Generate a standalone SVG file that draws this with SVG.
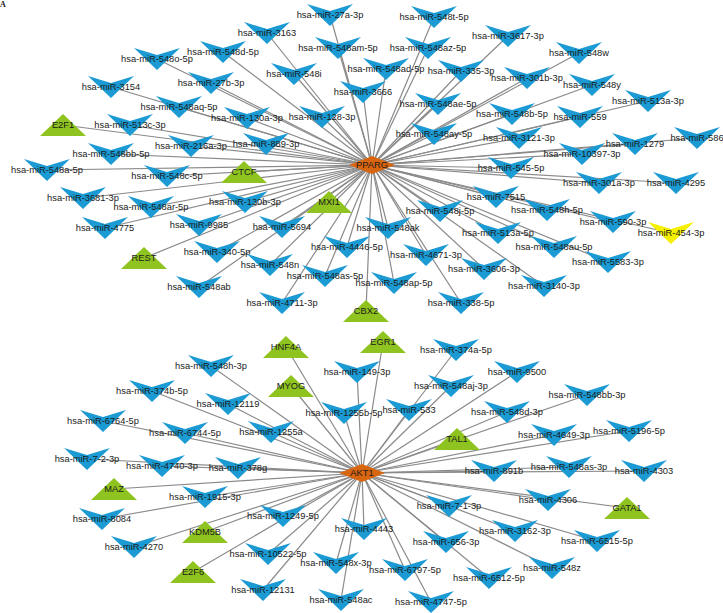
<svg xmlns="http://www.w3.org/2000/svg" xmlns:xlink="http://www.w3.org/1999/xlink" width="723" height="613" viewBox="0 0 723 613">
<style>
.e{stroke:#8a8a8a;stroke-width:1.2;fill:none}
.m{fill:#1b9ad3}
.y{fill:#f5f000}
.t{fill:#8fc31f}
.h{fill:#d8650f}
text{font-family:"Liberation Sans",Arial,sans-serif;font-size:9.3px;fill:#1a1a1a;text-anchor:middle}
</style>
<defs>
<path id="mir" d="M-23,-11 L0,-4 L23,-11 L0,11 Z"/>
<path id="tf" d="M0,-11 L23,11 L-23,11 Z"/>
<path id="hub" d="M-23,0 L0,-9 L23,0 L0,9 Z"/>
</defs>
<rect width="723" height="613" fill="#fff"/>
<text x="0" y="7" style="font-family:'Liberation Serif',serif;font-weight:bold;font-size:8px;text-anchor:start">A</text>
<g id="edges">
<line class="e" x1="372" y1="165" x2="330" y2="15"/>
<line class="e" x1="372" y1="165" x2="434" y2="17"/>
<line class="e" x1="372" y1="165" x2="267" y2="33"/>
<line class="e" x1="372" y1="165" x2="223" y2="52"/>
<line class="e" x1="372" y1="165" x2="338" y2="48"/>
<line class="e" x1="372" y1="165" x2="428" y2="48"/>
<line class="e" x1="372" y1="165" x2="508" y2="36"/>
<line class="e" x1="372" y1="165" x2="157" y2="59"/>
<line class="e" x1="372" y1="165" x2="294" y2="74"/>
<line class="e" x1="372" y1="165" x2="386" y2="69"/>
<line class="e" x1="372" y1="165" x2="579" y2="53"/>
<line class="e" x1="372" y1="165" x2="111" y2="87"/>
<line class="e" x1="372" y1="165" x2="211" y2="83"/>
<line class="e" x1="372" y1="165" x2="363" y2="92"/>
<line class="e" x1="372" y1="165" x2="461" y2="71"/>
<line class="e" x1="372" y1="165" x2="527" y2="78"/>
<line class="e" x1="372" y1="165" x2="592" y2="85"/>
<line class="e" x1="372" y1="165" x2="179" y2="107"/>
<line class="e" x1="372" y1="165" x2="247" y2="118"/>
<line class="e" x1="372" y1="165" x2="438" y2="104"/>
<line class="e" x1="372" y1="165" x2="512" y2="114"/>
<line class="e" x1="372" y1="165" x2="580" y2="117"/>
<line class="e" x1="372" y1="165" x2="648" y2="101"/>
<line class="e" x1="372" y1="165" x2="130" y2="125"/>
<line class="e" x1="372" y1="165" x2="322" y2="117"/>
<line class="e" x1="372" y1="165" x2="434" y2="134"/>
<line class="e" x1="372" y1="165" x2="519" y2="138"/>
<line class="e" x1="372" y1="165" x2="635" y2="144"/>
<line class="e" x1="372" y1="165" x2="697" y2="138"/>
<line class="e" x1="372" y1="165" x2="191" y2="146"/>
<line class="e" x1="372" y1="165" x2="266" y2="144"/>
<line class="e" x1="372" y1="165" x2="582" y2="154"/>
<line class="e" x1="372" y1="165" x2="111" y2="154"/>
<line class="e" x1="372" y1="165" x2="47" y2="170"/>
<line class="e" x1="372" y1="165" x2="167" y2="176"/>
<line class="e" x1="372" y1="165" x2="511" y2="168"/>
<line class="e" x1="372" y1="165" x2="599" y2="183"/>
<line class="e" x1="372" y1="165" x2="676" y2="183"/>
<line class="e" x1="372" y1="165" x2="83" y2="198"/>
<line class="e" x1="372" y1="165" x2="245" y2="202"/>
<line class="e" x1="372" y1="165" x2="496" y2="197"/>
<line class="e" x1="372" y1="165" x2="151" y2="207"/>
<line class="e" x1="372" y1="165" x2="547" y2="210"/>
<line class="e" x1="372" y1="165" x2="440" y2="211"/>
<line class="e" x1="372" y1="165" x2="105" y2="228"/>
<line class="e" x1="372" y1="165" x2="199" y2="225"/>
<line class="e" x1="372" y1="165" x2="613" y2="222"/>
<line class="e" x1="372" y1="165" x2="671" y2="233"/>
<line class="e" x1="372" y1="165" x2="282" y2="227"/>
<line class="e" x1="372" y1="165" x2="388" y2="228"/>
<line class="e" x1="372" y1="165" x2="498" y2="233"/>
<line class="e" x1="372" y1="165" x2="217" y2="252"/>
<line class="e" x1="372" y1="165" x2="347" y2="247"/>
<line class="e" x1="372" y1="165" x2="426" y2="255"/>
<line class="e" x1="372" y1="165" x2="554" y2="247"/>
<line class="e" x1="372" y1="165" x2="270" y2="265"/>
<line class="e" x1="372" y1="165" x2="608" y2="262"/>
<line class="e" x1="372" y1="165" x2="484" y2="269"/>
<line class="e" x1="372" y1="165" x2="325" y2="276"/>
<line class="e" x1="372" y1="165" x2="394" y2="283"/>
<line class="e" x1="372" y1="165" x2="544" y2="286"/>
<line class="e" x1="372" y1="165" x2="199" y2="287"/>
<line class="e" x1="372" y1="165" x2="282" y2="303"/>
<line class="e" x1="372" y1="165" x2="461" y2="303"/>
<line class="e" x1="372" y1="165" x2="63" y2="125"/>
<line class="e" x1="372" y1="165" x2="244" y2="172"/>
<line class="e" x1="372" y1="165" x2="329" y2="202"/>
<line class="e" x1="372" y1="165" x2="144" y2="258"/>
<line class="e" x1="372" y1="165" x2="366" y2="311"/>
<line class="e" x1="362" y1="473" x2="211" y2="366"/>
<line class="e" x1="362" y1="473" x2="152" y2="391"/>
<line class="e" x1="362" y1="473" x2="228" y2="404"/>
<line class="e" x1="362" y1="473" x2="103" y2="421"/>
<line class="e" x1="362" y1="473" x2="185" y2="433"/>
<line class="e" x1="362" y1="473" x2="271" y2="432"/>
<line class="e" x1="362" y1="473" x2="87" y2="459"/>
<line class="e" x1="362" y1="473" x2="162" y2="466"/>
<line class="e" x1="362" y1="473" x2="238" y2="468"/>
<line class="e" x1="362" y1="473" x2="205" y2="497"/>
<line class="e" x1="362" y1="473" x2="102" y2="519"/>
<line class="e" x1="362" y1="473" x2="134" y2="547"/>
<line class="e" x1="362" y1="473" x2="283" y2="516"/>
<line class="e" x1="362" y1="473" x2="268" y2="554"/>
<line class="e" x1="362" y1="473" x2="263" y2="590"/>
<line class="e" x1="362" y1="473" x2="357" y2="372"/>
<line class="e" x1="362" y1="473" x2="344" y2="413"/>
<line class="e" x1="362" y1="473" x2="409" y2="410"/>
<line class="e" x1="362" y1="473" x2="456" y2="350"/>
<line class="e" x1="362" y1="473" x2="451" y2="386"/>
<line class="e" x1="362" y1="473" x2="517" y2="372"/>
<line class="e" x1="362" y1="473" x2="587" y2="395"/>
<line class="e" x1="362" y1="473" x2="507" y2="412"/>
<line class="e" x1="362" y1="473" x2="554" y2="435"/>
<line class="e" x1="362" y1="473" x2="629" y2="431"/>
<line class="e" x1="362" y1="473" x2="494" y2="471"/>
<line class="e" x1="362" y1="473" x2="569" y2="467"/>
<line class="e" x1="362" y1="473" x2="644" y2="471"/>
<line class="e" x1="362" y1="473" x2="548" y2="500"/>
<line class="e" x1="362" y1="473" x2="449" y2="506"/>
<line class="e" x1="362" y1="473" x2="515" y2="531"/>
<line class="e" x1="362" y1="473" x2="597" y2="541"/>
<line class="e" x1="362" y1="473" x2="552" y2="568"/>
<line class="e" x1="362" y1="473" x2="446" y2="542"/>
<line class="e" x1="362" y1="473" x2="489" y2="578"/>
<line class="e" x1="362" y1="473" x2="364" y2="529"/>
<line class="e" x1="362" y1="473" x2="336" y2="563"/>
<line class="e" x1="362" y1="473" x2="405" y2="570"/>
<line class="e" x1="362" y1="473" x2="341" y2="600"/>
<line class="e" x1="362" y1="473" x2="431" y2="602"/>
<line class="e" x1="362" y1="473" x2="286" y2="347"/>
<line class="e" x1="362" y1="473" x2="383" y2="342"/>
<line class="e" x1="362" y1="473" x2="291" y2="386"/>
<line class="e" x1="362" y1="473" x2="457" y2="439"/>
<line class="e" x1="362" y1="473" x2="114" y2="489"/>
<line class="e" x1="362" y1="473" x2="205" y2="532"/>
<line class="e" x1="362" y1="473" x2="193" y2="572"/>
<line class="e" x1="362" y1="473" x2="627" y2="508"/>
</g>
<g id="n-27a-3p"><use href="#mir" class="m" x="330" y="15"/><text x="330" y="18">hsa-miR-27a-3p</text></g>
<g id="n-548t-5p"><use href="#mir" class="m" x="434" y="17"/><text x="434" y="20">hsa-miR-548t-5p</text></g>
<g id="n-3163"><use href="#mir" class="m" x="267" y="33"/><text x="267" y="36">hsa-miR-3163</text></g>
<g id="n-548d-5p"><use href="#mir" class="m" x="223" y="52"/><text x="223" y="55">hsa-miR-548d-5p</text></g>
<g id="n-548am-5p"><use href="#mir" class="m" x="338" y="48"/><text x="338" y="51">hsa-miR-548am-5p</text></g>
<g id="n-548az-5p"><use href="#mir" class="m" x="428" y="48"/><text x="428" y="51">hsa-miR-548az-5p</text></g>
<g id="n-3617-3p"><use href="#mir" class="m" x="508" y="36"/><text x="508" y="39">hsa-miR-3617-3p</text></g>
<g id="n-548o-5p"><use href="#mir" class="m" x="157" y="59"/><text x="157" y="62">hsa-miR-548o-5p</text></g>
<g id="n-548i"><use href="#mir" class="m" x="294" y="74"/><text x="294" y="77">hsa-miR-548i</text></g>
<g id="n-548ad-5p"><use href="#mir" class="m" x="386" y="69"/><text x="386" y="72">hsa-miR-548ad-5p</text></g>
<g id="n-548w"><use href="#mir" class="m" x="579" y="53"/><text x="579" y="56">hsa-miR-548w</text></g>
<g id="n-3154"><use href="#mir" class="m" x="111" y="87"/><text x="111" y="90">hsa-miR-3154</text></g>
<g id="n-27b-3p"><use href="#mir" class="m" x="211" y="83"/><text x="211" y="86">hsa-miR-27b-3p</text></g>
<g id="n-3666"><use href="#mir" class="m" x="363" y="92"/><text x="363" y="95">hsa-miR-3666</text></g>
<g id="n-335-3p"><use href="#mir" class="m" x="461" y="71"/><text x="461" y="74">hsa-miR-335-3p</text></g>
<g id="n-301b-3p"><use href="#mir" class="m" x="527" y="78"/><text x="527" y="81">hsa-miR-301b-3p</text></g>
<g id="n-548y"><use href="#mir" class="m" x="592" y="85"/><text x="592" y="88">hsa-miR-548y</text></g>
<g id="n-548aq-5p"><use href="#mir" class="m" x="179" y="107"/><text x="179" y="110">hsa-miR-548aq-5p</text></g>
<g id="n-130a-3p"><use href="#mir" class="m" x="247" y="118"/><text x="247" y="121">hsa-miR-130a-3p</text></g>
<g id="n-548ae-5p"><use href="#mir" class="m" x="438" y="104"/><text x="438" y="107">hsa-miR-548ae-5p</text></g>
<g id="n-548b-5p"><use href="#mir" class="m" x="512" y="114"/><text x="512" y="117">hsa-miR-548b-5p</text></g>
<g id="n-559"><use href="#mir" class="m" x="580" y="117"/><text x="580" y="120">hsa-miR-559</text></g>
<g id="n-513a-3p"><use href="#mir" class="m" x="648" y="101"/><text x="648" y="104">hsa-miR-513a-3p</text></g>
<g id="n-513c-3p"><use href="#mir" class="m" x="130" y="125"/><text x="130" y="128">hsa-miR-513c-3p</text></g>
<g id="n-128-3p"><use href="#mir" class="m" x="322" y="117"/><text x="322" y="120">hsa-miR-128-3p</text></g>
<g id="n-548ay-5p"><use href="#mir" class="m" x="434" y="134"/><text x="434" y="137">hsa-miR-548ay-5p</text></g>
<g id="n-3121-3p"><use href="#mir" class="m" x="519" y="138"/><text x="519" y="141">hsa-miR-3121-3p</text></g>
<g id="n-1279"><use href="#mir" class="m" x="635" y="144"/><text x="635" y="147">hsa-miR-1279</text></g>
<g id="n-586"><use href="#mir" class="m" x="697" y="138"/><text x="697" y="141">hsa-miR-586</text></g>
<g id="n-216a-3p"><use href="#mir" class="m" x="191" y="146"/><text x="191" y="149">hsa-miR-216a-3p</text></g>
<g id="n-889-3p"><use href="#mir" class="m" x="266" y="144"/><text x="266" y="147">hsa-miR-889-3p</text></g>
<g id="n-10397-3p"><use href="#mir" class="m" x="582" y="154"/><text x="582" y="157">hsa-miR-10397-3p</text></g>
<g id="n-548bb-5p"><use href="#mir" class="m" x="111" y="154"/><text x="111" y="157">hsa-miR-548bb-5p</text></g>
<g id="n-548a-5p"><use href="#mir" class="m" x="47" y="170"/><text x="47" y="173">hsa-miR-548a-5p</text></g>
<g id="n-548c-5p"><use href="#mir" class="m" x="167" y="176"/><text x="167" y="179">hsa-miR-548c-5p</text></g>
<g id="n-545-5p"><use href="#mir" class="m" x="511" y="168"/><text x="511" y="171">hsa-miR-545-5p</text></g>
<g id="n-301a-3p"><use href="#mir" class="m" x="599" y="183"/><text x="599" y="186">hsa-miR-301a-3p</text></g>
<g id="n-4295"><use href="#mir" class="m" x="676" y="183"/><text x="676" y="186">hsa-miR-4295</text></g>
<g id="n-3681-3p"><use href="#mir" class="m" x="83" y="198"/><text x="83" y="201">hsa-miR-3681-3p</text></g>
<g id="n-130b-3p"><use href="#mir" class="m" x="245" y="202"/><text x="245" y="205">hsa-miR-130b-3p</text></g>
<g id="n-7515"><use href="#mir" class="m" x="496" y="197"/><text x="496" y="200">hsa-miR-7515</text></g>
<g id="n-548ar-5p"><use href="#mir" class="m" x="151" y="207"/><text x="151" y="210">hsa-miR-548ar-5p</text></g>
<g id="n-548h-5p"><use href="#mir" class="m" x="547" y="210"/><text x="547" y="213">hsa-miR-548h-5p</text></g>
<g id="n-548j-5p"><use href="#mir" class="m" x="440" y="211"/><text x="440" y="214">hsa-miR-548j-5p</text></g>
<g id="n-4775"><use href="#mir" class="m" x="105" y="228"/><text x="105" y="231">hsa-miR-4775</text></g>
<g id="n-9985"><use href="#mir" class="m" x="199" y="225"/><text x="199" y="228">hsa-miR-9985</text></g>
<g id="n-590-3p"><use href="#mir" class="m" x="613" y="222"/><text x="613" y="225">hsa-miR-590-3p</text></g>
<g id="n-454-3p"><use href="#mir" class="y" x="671" y="233"/><text x="671" y="236">hsa-miR-454-3p</text></g>
<g id="n-5694"><use href="#mir" class="m" x="282" y="227"/><text x="282" y="230">hsa-miR-5694</text></g>
<g id="n-548ak"><use href="#mir" class="m" x="388" y="228"/><text x="388" y="231">hsa-miR-548ak</text></g>
<g id="n-513a-5p"><use href="#mir" class="m" x="498" y="233"/><text x="498" y="236">hsa-miR-513a-5p</text></g>
<g id="n-340-5p"><use href="#mir" class="m" x="217" y="252"/><text x="217" y="255">hsa-miR-340-5p</text></g>
<g id="n-4446-5p"><use href="#mir" class="m" x="347" y="247"/><text x="347" y="250">hsa-miR-4446-5p</text></g>
<g id="n-4671-3p"><use href="#mir" class="m" x="426" y="255"/><text x="426" y="258">hsa-miR-4671-3p</text></g>
<g id="n-548au-5p"><use href="#mir" class="m" x="554" y="247"/><text x="554" y="250">hsa-miR-548au-5p</text></g>
<g id="n-548n"><use href="#mir" class="m" x="270" y="265"/><text x="270" y="268">hsa-miR-548n</text></g>
<g id="n-5583-3p"><use href="#mir" class="m" x="608" y="262"/><text x="608" y="265">hsa-miR-5583-3p</text></g>
<g id="n-3606-3p"><use href="#mir" class="m" x="484" y="269"/><text x="484" y="272">hsa-miR-3606-3p</text></g>
<g id="n-548as-5p"><use href="#mir" class="m" x="325" y="276"/><text x="325" y="279">hsa-miR-548as-5p</text></g>
<g id="n-548ap-5p"><use href="#mir" class="m" x="394" y="283"/><text x="394" y="286">hsa-miR-548ap-5p</text></g>
<g id="n-3140-3p"><use href="#mir" class="m" x="544" y="286"/><text x="544" y="289">hsa-miR-3140-3p</text></g>
<g id="n-548ab"><use href="#mir" class="m" x="199" y="287"/><text x="199" y="290">hsa-miR-548ab</text></g>
<g id="n-4711-3p"><use href="#mir" class="m" x="282" y="303"/><text x="282" y="306">hsa-miR-4711-3p</text></g>
<g id="n-338-5p"><use href="#mir" class="m" x="461" y="303"/><text x="461" y="306">hsa-miR-338-5p</text></g>
<g id="n-E2F1"><use href="#tf" class="t" x="63" y="125"/><text x="63" y="128">E2F1</text></g>
<g id="n-CTCF"><use href="#tf" class="t" x="244" y="172"/><text x="244" y="175">CTCF</text></g>
<g id="n-MXI1"><use href="#tf" class="t" x="329" y="202"/><text x="329" y="205">MXI1</text></g>
<g id="n-REST"><use href="#tf" class="t" x="144" y="258"/><text x="144" y="261">REST</text></g>
<g id="n-CBX2"><use href="#tf" class="t" x="366" y="311"/><text x="366" y="314">CBX2</text></g>
<g id="n-PPARG"><use href="#hub" class="h" x="372" y="165"/><text x="372" y="168">PPARG</text></g>
<g id="n-548h-3p"><use href="#mir" class="m" x="211" y="366"/><text x="211" y="369">hsa-miR-548h-3p</text></g>
<g id="n-374b-5p"><use href="#mir" class="m" x="152" y="391"/><text x="152" y="394">hsa-miR-374b-5p</text></g>
<g id="n-12119"><use href="#mir" class="m" x="228" y="404"/><text x="228" y="407">hsa-miR-12119</text></g>
<g id="n-6764-5p"><use href="#mir" class="m" x="103" y="421"/><text x="103" y="424">hsa-miR-6764-5p</text></g>
<g id="n-6744-5p"><use href="#mir" class="m" x="185" y="433"/><text x="185" y="436">hsa-miR-6744-5p</text></g>
<g id="n-1255a"><use href="#mir" class="m" x="271" y="432"/><text x="271" y="435">hsa-miR-1255a</text></g>
<g id="n-7-2-3p"><use href="#mir" class="m" x="87" y="459"/><text x="87" y="462">hsa-miR-7-2-3p</text></g>
<g id="n-4740-3p"><use href="#mir" class="m" x="162" y="466"/><text x="162" y="469">hsa-miR-4740-3p</text></g>
<g id="n-378g"><use href="#mir" class="m" x="238" y="468"/><text x="238" y="471">hsa-miR-378g</text></g>
<g id="n-1915-3p"><use href="#mir" class="m" x="205" y="497"/><text x="205" y="500">hsa-miR-1915-3p</text></g>
<g id="n-8084"><use href="#mir" class="m" x="102" y="519"/><text x="102" y="522">hsa-miR-8084</text></g>
<g id="n-4270"><use href="#mir" class="m" x="134" y="547"/><text x="134" y="550">hsa-miR-4270</text></g>
<g id="n-1249-5p"><use href="#mir" class="m" x="283" y="516"/><text x="283" y="519">hsa-miR-1249-5p</text></g>
<g id="n-10522-5p"><use href="#mir" class="m" x="268" y="554"/><text x="268" y="557">hsa-miR-10522-5p</text></g>
<g id="n-12131"><use href="#mir" class="m" x="263" y="590"/><text x="263" y="593">hsa-miR-12131</text></g>
<g id="n-149-3p"><use href="#mir" class="m" x="357" y="372"/><text x="357" y="375">hsa-miR-149-3p</text></g>
<g id="n-1255b-5p"><use href="#mir" class="m" x="344" y="413"/><text x="344" y="416">hsa-miR-1255b-5p</text></g>
<g id="n-533"><use href="#mir" class="m" x="409" y="410"/><text x="409" y="413">hsa-miR-533</text></g>
<g id="n-374a-5p"><use href="#mir" class="m" x="456" y="350"/><text x="456" y="353">hsa-miR-374a-5p</text></g>
<g id="n-548aj-3p"><use href="#mir" class="m" x="451" y="386"/><text x="451" y="389">hsa-miR-548aj-3p</text></g>
<g id="n-9500"><use href="#mir" class="m" x="517" y="372"/><text x="517" y="375">hsa-miR-9500</text></g>
<g id="n-548bb-3p"><use href="#mir" class="m" x="587" y="395"/><text x="587" y="398">hsa-miR-548bb-3p</text></g>
<g id="n-548d-3p"><use href="#mir" class="m" x="507" y="412"/><text x="507" y="415">hsa-miR-548d-3p</text></g>
<g id="n-4649-3p"><use href="#mir" class="m" x="554" y="435"/><text x="554" y="438">hsa-miR-4649-3p</text></g>
<g id="n-5196-5p"><use href="#mir" class="m" x="629" y="431"/><text x="629" y="434">hsa-miR-5196-5p</text></g>
<g id="n-891b"><use href="#mir" class="m" x="494" y="471"/><text x="494" y="474">hsa-miR-891b</text></g>
<g id="n-548as-3p"><use href="#mir" class="m" x="569" y="467"/><text x="569" y="470">hsa-miR-548as-3p</text></g>
<g id="n-4303"><use href="#mir" class="m" x="644" y="471"/><text x="644" y="474">hsa-miR-4303</text></g>
<g id="n-4306"><use href="#mir" class="m" x="548" y="500"/><text x="548" y="503">hsa-miR-4306</text></g>
<g id="n-7-1-3p"><use href="#mir" class="m" x="449" y="506"/><text x="449" y="509">hsa-miR-7-1-3p</text></g>
<g id="n-3162-3p"><use href="#mir" class="m" x="515" y="531"/><text x="515" y="534">hsa-miR-3162-3p</text></g>
<g id="n-6515-5p"><use href="#mir" class="m" x="597" y="541"/><text x="597" y="544">hsa-miR-6515-5p</text></g>
<g id="n-548z"><use href="#mir" class="m" x="552" y="568"/><text x="552" y="571">hsa-miR-548z</text></g>
<g id="n-656-3p"><use href="#mir" class="m" x="446" y="542"/><text x="446" y="545">hsa-miR-656-3p</text></g>
<g id="n-6512-5p"><use href="#mir" class="m" x="489" y="578"/><text x="489" y="581">hsa-miR-6512-5p</text></g>
<g id="n-4443"><use href="#mir" class="m" x="364" y="529"/><text x="364" y="532">hsa-miR-4443</text></g>
<g id="n-548x-3p"><use href="#mir" class="m" x="336" y="563"/><text x="336" y="566">hsa-miR-548x-3p</text></g>
<g id="n-6797-5p"><use href="#mir" class="m" x="405" y="570"/><text x="405" y="573">hsa-miR-6797-5p</text></g>
<g id="n-548ac"><use href="#mir" class="m" x="341" y="600"/><text x="341" y="603">hsa-miR-548ac</text></g>
<g id="n-4747-5p"><use href="#mir" class="m" x="431" y="602"/><text x="431" y="605">hsa-miR-4747-5p</text></g>
<g id="n-HNF4A"><use href="#tf" class="t" x="286" y="347"/><text x="286" y="350">HNF4A</text></g>
<g id="n-EGR1"><use href="#tf" class="t" x="383" y="342"/><text x="383" y="345">EGR1</text></g>
<g id="n-MYOG"><use href="#tf" class="t" x="291" y="386"/><text x="291" y="389">MYOG</text></g>
<g id="n-TAL1"><use href="#tf" class="t" x="457" y="439"/><text x="457" y="442">TAL1</text></g>
<g id="n-MAZ"><use href="#tf" class="t" x="114" y="489"/><text x="114" y="492">MAZ</text></g>
<g id="n-KDM5B"><use href="#tf" class="t" x="205" y="532"/><text x="205" y="535">KDM5B</text></g>
<g id="n-E2F6"><use href="#tf" class="t" x="193" y="572"/><text x="193" y="575">E2F6</text></g>
<g id="n-GATA1"><use href="#tf" class="t" x="627" y="508"/><text x="627" y="511">GATA1</text></g>
<g id="n-AKT1"><use href="#hub" class="h" x="362" y="473"/><text x="362" y="476">AKT1</text></g>
</svg>
